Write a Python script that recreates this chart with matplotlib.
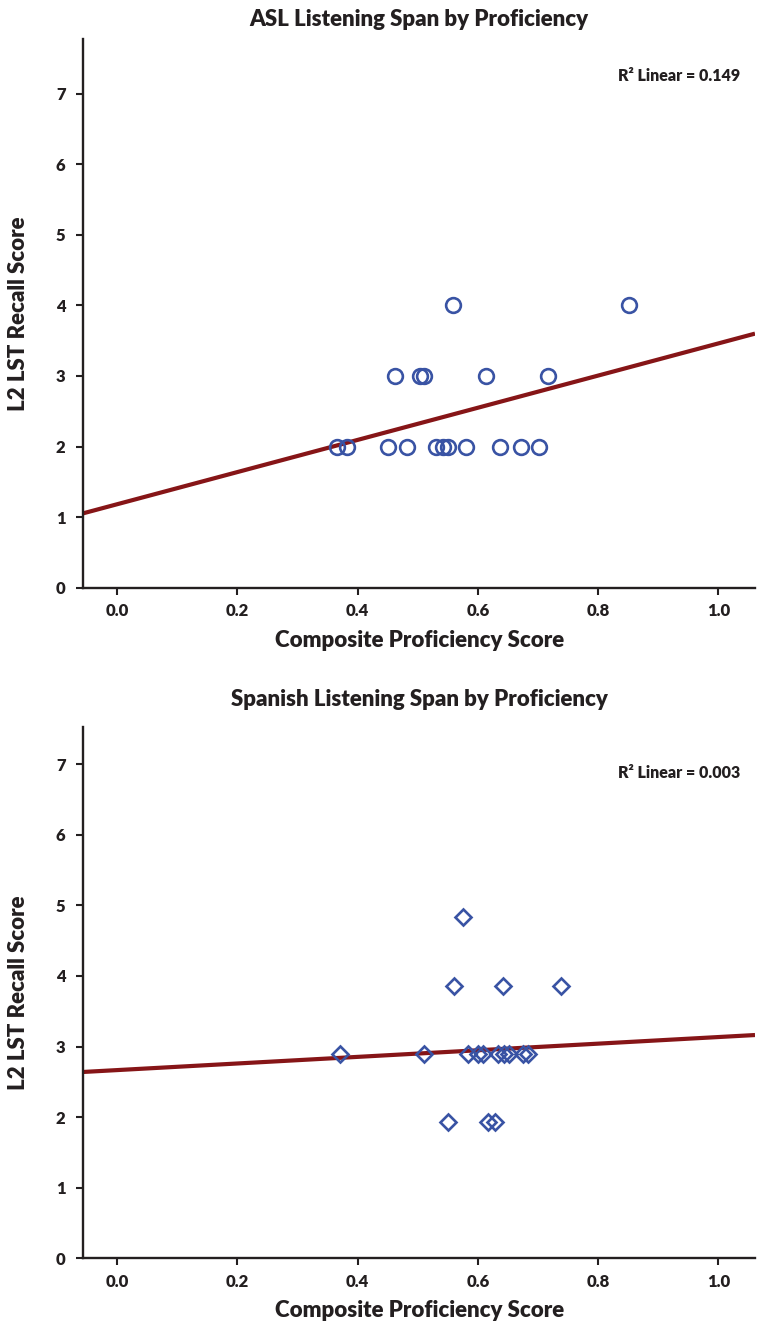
import matplotlib
matplotlib.use("Agg")
import matplotlib.pyplot as plt
import numpy as np

# ---- data ----
asl_x = [0.559, 0.851,
         0.462, 0.503, 0.510, 0.613, 0.716,
         0.365, 0.383, 0.450, 0.482, 0.530, 0.542, 0.551, 0.580, 0.637, 0.671, 0.702]
asl_y = [4, 4,
         3, 3, 3, 3, 3,
         2, 2, 2, 2, 2, 2, 2, 2, 2, 2, 2]
asl_fit = (1.183, 2.278)      # intercept, slope
asl_r2 = "0.149"

spa_x = [0.575,
         0.561, 0.641, 0.739,
         0.371, 0.510, 0.583, 0.600, 0.608, 0.633, 0.644, 0.651, 0.675, 0.683,
         0.550, 0.617, 0.628]
spa_y = [4.84,
         3.86, 3.86, 3.86,
         2.90, 2.90, 2.90, 2.90, 2.90, 2.90, 2.90, 2.90, 2.90, 2.90,
         1.93, 1.93, 1.93]
spa_fit = (2.666, 0.468)
spa_r2 = "0.003"

x_ticks = [0.0, 0.2, 0.4, 0.6, 0.8, 1.0]
x_ticklabels = ["0.0", "0.2", "0.4", "0.6", "0.8", "1.0"]
y_ticks = [0, 1, 2, 3, 4, 5, 6, 7]

titles = ["ASL Listening Span by Proficiency", "Spanish Listening Span by Proficiency"]
xlabel = "Composite Proficiency Score"
ylabel = "L2 LST Recall Score"

FONT = "Lato"
WEIGHT = "heavy"
plt.rcParams['font.family'] = [FONT, 'DejaVu Sans']
plt.rcParams['font.weight'] = WEIGHT

W, H = 757, 1326
fig = plt.figure(figsize=(W / 100, H / 100), dpi=100)

blue = "#3953a4"
red = "#861517"
dark = "#231f20"

panels = [
    dict(rect=[83.3 / W, (H - 587.7) / H, (755 - 83.3) / W, (587.7 - 39.3) / H],
         x=asl_x, y=asl_y, fit=asl_fit, r2=asl_r2, marker="o", ms=10.6, ymax=7.77,
         title=titles[0], title_y=1.037, xlab_y=-0.0954, r2_y=0.933),
    dict(rect=[83.3 / W, (H - 1258.3) / H, (755 - 83.3) / W, (1258.3 - 726.7) / H],
         x=spa_x, y=spa_y, fit=spa_fit, r2=spa_r2, marker="D", ms=8.4, ymax=7.53,
         title=titles[1], title_y=1.051, xlab_y=-0.0973, r2_y=0.912),
]

xmin, xmax = -0.0565, 1.061
for p in panels:
    ax = fig.add_axes(p["rect"])
    ax.set_xlim(xmin, xmax)
    ax.set_ylim(0, p["ymax"])
    xs = np.array([xmin, xmax])
    b0, b1 = p["fit"]
    ax.plot(xs, b0 + b1 * xs, color=red, lw=3.0, solid_capstyle="butt", zorder=2)
    ax.plot(p["x"], p["y"], linestyle="none", marker=p["marker"], ms=p["ms"],
            mfc="none", mec=blue, mew=1.9, zorder=3)
    for s in ["top", "right"]:
        ax.spines[s].set_visible(False)
    for s in ["left", "bottom"]:
        ax.spines[s].set_color(dark)
        ax.spines[s].set_linewidth(1.7)
    ax.set_xticks(x_ticks)
    ax.set_xticklabels(x_ticklabels)
    ax.set_yticks(y_ticks)
    ax.tick_params(axis="both", length=4.8, width=1.5, color=dark, labelsize=12,
                   labelcolor=dark)
    ax.tick_params(axis="x", pad=6.5)
    ax.tick_params(axis="y", pad=8)
    for lab in ax.get_xticklabels() + ax.get_yticklabels():
        lab.set_fontweight(WEIGHT)
    ax.text(0.5, p["title_y"], p["title"], transform=ax.transAxes, ha="center",
            va="center", fontsize=16, fontweight=WEIGHT, color=dark)
    ax.set_xlabel(xlabel, fontsize=16, fontweight=WEIGHT, color=dark)
    ax.xaxis.set_label_coords(0.5, p["xlab_y"])
    ax.xaxis.label.set_va("center")
    ax.set_ylabel(ylabel, fontsize=16, fontweight=WEIGHT, color=dark)
    ax.yaxis.set_label_coords(-0.097, 0.5)
    ax.yaxis.label.set_va("center")
    ax.text(0.978, p["r2_y"], "R\u00b2 Linear = " + p["r2"], transform=ax.transAxes,
            ha="right", va="center", fontsize=11.5, fontweight=WEIGHT, color=dark)

fig.savefig("out.png", dpi=100)
